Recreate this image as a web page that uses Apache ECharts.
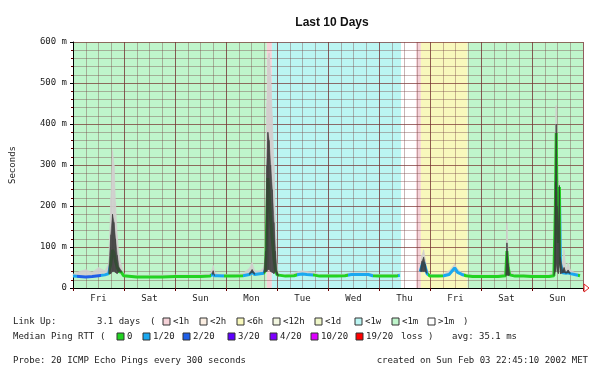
<!DOCTYPE html>
<html>
<head>
<meta charset="utf-8">
<script src="https://cdn.jsdelivr.net/npm/echarts@6/dist/echarts.min.js"></script>
<style>
  html, body { margin: 0; padding: 0; background: #fff; }
  #chart { width: 590px; height: 371px; }
</style>
</head>
<body>
<div id="chart"></div>
<script>
// 10 days, hours since Fri 00:00
const dayLabels = ["Fri", "Sat", "Sun", "Mon", "Tue", "Wed", "Thu", "Fri", "Sat", "Sun"];

const hours = [
  0, 3, 6, 9, 12, 15, 16.8, 17.8, 18.6, 19.3, 20, 20.8, 21.7, 22.8, 23.8, 24.5,
  30, 36, 42, 48, 54, 60, 64.5, 65.5, 66, 66.6, 68, 72, 76, 80, 83, 84.3, 85.5, 88, 89.8,
  90.6, 91.2, 91.7, 92.3, 93, 93.8, 94.6, 95.3, 96, 96.8,
  100, 104, 106, 108, 110, 113, 116, 120, 124, 128, 131, 135, 139, 141, 144, 148, 152, 153.8,
  158,
  163.4, 164.2, 165, 165.8, 166.6, 168, 172, 174.5, 177, 179.6, 181, 183, 185, 188, 192,
  196, 200, 203.6, 204.2, 204.8, 205.5, 208, 212, 216,
  220, 224, 226.3, 227, 227.4, 227.9, 228.4, 228.9, 229.4, 230.4, 231.1, 232, 233, 234, 236, 238.6
];

// median RTT (ms)
const medianRtt = [
  29, 28, 27, 28, 30, 32, 35, 60, 93, 85, 65, 50, 40, 38, 30, 27,
  27, 27, 27, 28, 28, 28, 29, 33, 35, 30, 30, 29, 29, 30, 33, 38, 33, 35, 36,
  45, 160, 268, 230, 170, 117, 70, 44, 32, 29,
  29, 30, 33, 34, 33, 32, 29, 29, 29, 30, 33, 33, 33, 30, 29, 29, 29, 31,
  null,
  40, 55, 63, 50, 35, 29, 29, 30, 33, 49, 38, 33, 30, 28, 28,
  28, 28, 30, 90, 50, 32, 29, 29, 28,
  28, 28, 30, 200, 378, 150, 110, 246, 60, 37, 38, 36, 37, 35, 33, 30
];

// lower edge of the smoke (ms)
const smokeFloor = [
  29, 28, 27, 28, 30, 32, 35, 35, 40, 40, 38, 35, 40, 38, 30, 27,
  27, 27, 27, 28, 28, 28, 29, 33, 35, 30, 30, 29, 29, 30, 33, 38, 33, 35, 36,
  40, 40, 45, 45, 40, 38, 35, 40, 32, 29,
  29, 30, 33, 34, 33, 32, 29, 29, 29, 30, 33, 33, 33, 30, 29, 29, 29, 31,
  null,
  40, 40, 40, 40, 35, 29, 29, 30, 33, 49, 38, 33, 30, 28, 28,
  28, 28, 30, 32, 30, 32, 29, 29, 28,
  28, 28, 30, 40, 60, 40, 35, 60, 35, 37, 38, 36, 37, 35, 33, 30
];

// dense smoke upper edge (ms)
const smokeInner = [
  30, 29, 28, 29, 31, 33, 40, 130, 180, 160, 120, 80, 50, 42, 31, 28,
  28, 28, 28, 29, 29, 29, 30, 38, 42, 31, 31, 30, 30, 31, 36, 45, 36, 36, 40,
  90, 300, 380, 360, 300, 240, 160, 90, 40, 30,
  30, 31, 34, 35, 34, 33, 30, 30, 30, 31, 34, 34, 34, 31, 30, 30, 30, 32,
  null,
  45, 65, 75, 58, 38, 30, 30, 31, 36, 53, 41, 34, 31, 29, 29,
  29, 29, 33, 110, 60, 34, 30, 30, 29,
  29, 29, 34, 260, 400, 200, 150, 250, 75, 42, 50, 38, 44, 37, 34, 31
];

// light smoke upper edge (ms)
const smokeOuter = [
  34, 40, 45, 38, 50, 42, 60, 220, 335, 300, 210, 130, 80, 55, 38, 31,
  31, 31, 32, 32, 32, 33, 35, 45, 55, 40, 34, 33, 33, 36, 48, 62, 42, 42, 50,
  150, 450, 560, 573, 520, 420, 300, 160, 60, 34,
  33, 36, 40, 42, 40, 38, 33, 33, 33, 34, 37, 38, 37, 34, 33, 33, 33, 35,
  null,
  52, 80, 93, 70, 45, 33, 33, 35, 42, 58, 46, 37, 34, 32, 32,
  32, 32, 40, 158, 85, 40, 33, 33, 32,
  32, 32, 42, 380, 445, 300, 230, 262, 105, 55, 93, 46, 61, 45, 38, 34
];

// packet loss per stretch: [from hour, to hour, lost pings out of 20]
const lossSegments = [
  [0, 2, 1], [2, 13, 2], [13, 17, 1], [65, 71, 1], [80, 90, 1],
  [105.5, 113, 1], [129.5, 141, 1], [153, 154, 1], [163, 167, 1],
  [174, 184, 1], [229.5, 237.5, 1]
];
const lossColors = { 0: "#22d322", 1: "#1aa8f0", 2: "#1f5fe8", 3: "#5e00ff", 4: "#7e00ff", 10: "#dd00ff", 19: "#ff0000" };

// link uptime shading: [from hour, to hour, class]
const uptimeBands = [
  [0, 91.2, "<1m"], [91.2, 93.6, "<1h"], [93.6, 154.4, "<1w"], [154.4, 161.4, "down"],
  [161.4, 163.7, "<1h"], [163.7, 185.7, "<6h"], [185.7, 240, "<1m"]
];
const uptimeColors = {
  "<1h": "#f5d2d8", "<2h": "#fbeee2", "<6h": "#f8f8bc", "<12h": "#f2f6e0",
  "<1d": "#eef6c8", "<1w": "#bbf5f2", "<1m": "#bff5cb", ">1m": "#ffffff", down: "#ffffff"
};

const MONO = "DejaVu Sans Mono";

// one item per step: [h0, low0, high0, h1, low1, high1]
const bandItems = (low, high) => {
  const out = [];
  for (let i = 0; i < hours.length - 1; i++) {
    if (low[i] == null || low[i + 1] == null) continue;
    out.push([hours[i], low[i], high[i], hours[i + 1], low[i + 1], high[i + 1]]);
  }
  return out;
};
const bandRenderer = (color, opacity, minGap) => (params, api) => {
  if (api.value(2) - api.value(1) < minGap && api.value(5) - api.value(4) < minGap) return null;
  const a = api.coord([api.value(0), api.value(1)]);
  const b = api.coord([api.value(0), api.value(2)]);
  const c = api.coord([api.value(3), api.value(5)]);
  const d = api.coord([api.value(3), api.value(4)]);
  return {
    type: "polygon",
    shape: { points: [a, b, c, d] },
    style: { fill: color, stroke: color, lineWidth: 0.6, opacity: opacity },
  };
};

const chart = echarts.init(document.getElementById("chart"));

const txt = (x, y, s, align) => ({
  type: "text", x: x, y: y, z: 10,
  style: { text: s, font: "9px '" + MONO + "'", fill: "#222", textAlign: align || "left", textVerticalAlign: "middle" },
});
const box = (x, y, color) => ({
  type: "rect", z: 10,
  shape: { x: x, y: y - 4, width: 7, height: 7 },
  style: { fill: color, stroke: "#333", lineWidth: 1 },
});

const upLegend = [["<1h", 163], ["<2h", 200], ["<6h", 237], ["<12h", 273], ["<1d", 315], ["<1w", 355], ["<1m", 392], [">1m", 428]];
const lossLegend = [[0, "0", 117], [1, "1/20", 143], [2, "2/20", 183], [3, "3/20", 228], [4, "4/20", 270], [10, "10/20", 311], [19, "19/20", 356]];

const graphics = [
  txt(13, 322, "Link Up:"), txt(97, 322, "3.1 days"), txt(150, 322, "("),
  txt(463, 322, ")"),
  txt(13, 337, "Median Ping RTT"), txt(100, 337, "("),
  txt(401, 337, "loss )"), txt(452, 337, "avg: 35.1 ms"),
  txt(13, 361, "Probe: 20 ICMP Echo Pings every 300 seconds"),
  txt(588, 361, "created on Sun Feb 03 22:45:10 2002 MET", "right"),
  {
    type: "polyline", z: 10,
    shape: { points: [[584, 284], [589, 288], [584, 292], [584, 284]] },
    style: { fill: "none", stroke: "#e02020", lineWidth: 1 },
  },
];
upLegend.forEach(([k, x]) => { graphics.push(box(x, 322, uptimeColors[k]), txt(x + 10, 322, k)); });
lossLegend.forEach(([lvl, s, x]) => { graphics.push(box(x, 337, lossColors[lvl]), txt(x + 10, 337, s)); });

chart.setOption({
  animation: false,
  backgroundColor: "#ffffff",
  title: {
    text: "Last 10 Days",
    left: 327, top: 12, textAlign: "center",
    textStyle: { fontFamily: "Liberation Sans", fontWeight: "bold", fontSize: 12, color: "#111" },
  },
  grid: { left: 70, right: 7, top: 42, bottom: 83 },
  xAxis: [
    {
      type: "category", data: dayLabels, boundaryGap: true, position: "bottom", z: 2,
      axisLine: { lineStyle: { color: "#000", width: 1 } },
      axisTick: { show: true, length: 3, lineStyle: { color: "#600" } },
      axisLabel: { interval: 0, margin: 6, fontFamily: MONO, fontSize: 9, color: "#222" },
      splitLine: { show: true, interval: 0, lineStyle: { color: "rgba(110,30,30,0.65)", width: 1 } },
    },
    {
      type: "value", min: 0, max: 240, interval: 6, position: "top", z: 2,
      axisLine: { show: false }, axisTick: { show: false }, axisLabel: { show: false },
      splitLine: { show: true, lineStyle: { color: "rgba(120,70,70,0.4)", width: 1 } },
    },
  ],
  yAxis: {
    type: "value", min: 0, max: 600, interval: 100, z: 2,
    name: "Seconds", nameLocation: "middle", nameGap: 56, nameRotate: 90,
    nameTextStyle: { fontFamily: MONO, fontSize: 9, color: "#222" },
    axisLine: { show: true, lineStyle: { color: "#000" } },
    axisTick: { show: true, length: 3, lineStyle: { color: "#000" } },
    minorTick: { show: true, splitNumber: 5, length: 2, lineStyle: { color: "#600" } },
    axisLabel: {
      margin: 6, fontFamily: MONO, fontSize: 9, color: "#222",
      formatter: (v) => (v === 0 ? "0" : v + " m"),
    },
    splitLine: { show: true, lineStyle: { color: "rgba(110,30,30,0.65)", width: 1 } },
    minorSplitLine: { show: true, lineStyle: { color: "rgba(120,70,70,0.4)", width: 1 } },
  },
  visualMap: {
    type: "piecewise", show: false, dimension: 0, seriesIndex: 2,
    pieces: lossSegments.map(([a, b, lvl]) => ({ gte: a, lt: b, color: lossColors[lvl] })),
    outOfRange: { color: lossColors[0] },
  },
  graphic: graphics,
  series: [
    {
      name: "uptime", type: "line", xAxisIndex: 1, data: [], z: 1, silent: true,
      markArea: {
        silent: true,
        data: uptimeBands.map(([a, b, k]) => [
          { xAxis: a, itemStyle: { color: uptimeColors[k], opacity: 1 } },
          { xAxis: b },
        ]),
      },
    },
    {
      name: "smokeLight", type: "custom", xAxisIndex: 1, z: 3, silent: true,
      data: bandItems(smokeFloor, smokeOuter),
      encode: { x: [0, 3], y: [1, 2, 4, 5] },
      renderItem: bandRenderer("#d2cece", 0.9, 0),
    },
    {
      name: "median", type: "line", xAxisIndex: 1, z: 4,
      data: hours.map((h, i) => [h, medianRtt[i]]), showSymbol: false, connectNulls: false,
      lineStyle: { width: 3 },
    },
    {
      name: "smokeDense", type: "custom", xAxisIndex: 1, z: 5, silent: true,
      data: bandItems(smokeFloor, smokeInner),
      encode: { x: [0, 3], y: [1, 2, 4, 5] },
      renderItem: bandRenderer("#3a3a3a", 0.8, 6),
    },
  ],
});
</script>
</body>
</html>
